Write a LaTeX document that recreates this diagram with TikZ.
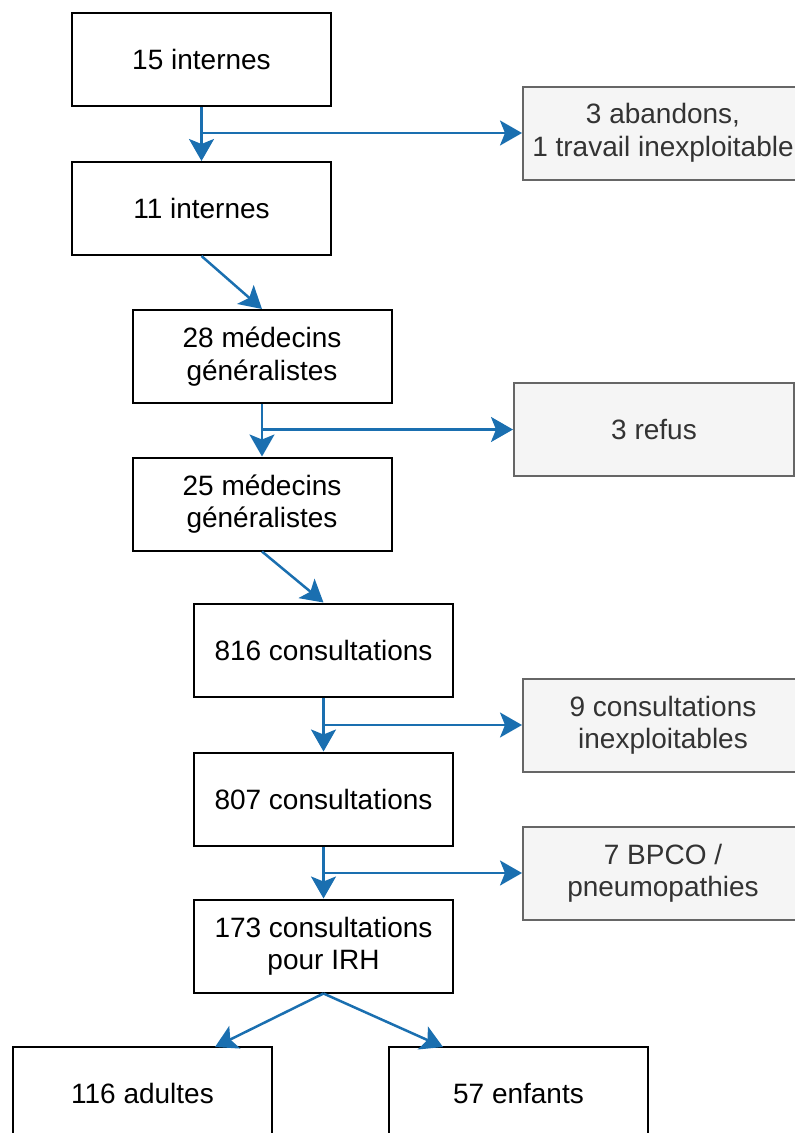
\documentclass[tikz,border=0pt]{standalone}
\usepackage{fontspec}
\setmainfont{Liberation Sans}
\usetikzlibrary{arrows.meta}
\definecolor{linkblue}{HTML}{1A6FB0}
\definecolor{sidefill}{HTML}{F5F5F5}
\definecolor{sidedraw}{HTML}{666666}
\definecolor{sidetext}{HTML}{333333}

\begin{document}
\begin{tikzpicture}
  [x=1pt,y=-1pt,
   every node/.style={rectangle,draw=black,line width=2pt,minimum width=259pt,
     minimum height=93pt,inner sep=0pt,align=center,font=\fontsize{28}{32.5}\selectfont},
   side/.style={fill=sidefill,draw=sidedraw,text=sidetext,minimum width=280pt},
   link/.style={draw=linkblue,line width=2.5pt,-{Stealth[length=22pt,width=25pt,inset=5pt]}}]
  \clip (0,0) rectangle (795,1133);

  \node (n1) at (201.5,59.5)   {15 internes};
  \node (n2) at (201.5,208.5)  {11 internes};
  \node (n3) at (262,356.5)    {28 médecins\\généralistes};
  \node (n4) at (262,504)      {25 médecins\\généralistes};
  \node (n5) at (323.5,650)    {816 consultations};
  \node (n6) at (323.5,799)    {807 consultations};
  \node (n7) at (323.5,946)    {173 consultations\\pour IRH};
  \node (n8) at (142.5,1093.5) {116 adultes};
  \node (n9) at (518.5,1093.5) {57 enfants};

  \node[side] (r1) at (663,133)   {3 abandons,\\1 travail inexploitable};
  \node[side] (r2) at (654,429.5) {3 refus};
  \node[side] (r3) at (663,725)   {9 consultations\\inexploitables};
  \node[side] (r4) at (663,873)   {7 BPCO /\\pneumopathies};

  \coordinate (b1) at (n1.south |- r1.west);
  \coordinate (b2) at (n3.south |- r2.west);
  \coordinate (b3) at (n5.south |- r3.west);
  \coordinate (b4) at (n6.south |- r4.west);
  \coordinate (t8) at (215,1047);
  \coordinate (t9) at (443,1047);

  \foreach \from/\to in {n1/n2,n2/n3,n3/n4,n4/n5,n5/n6,n6/n7}
    \draw[link] (\from.south) -- (\to.north);
  \foreach \from/\to in {b1/r1,b2/r2,b3/r3,b4/r4}
    \draw[link] (\from) -- (\to.west);
  \foreach \to in {t8,t9}
    \draw[link] (n7.south) -- (\to);

\end{tikzpicture}
\end{document}
